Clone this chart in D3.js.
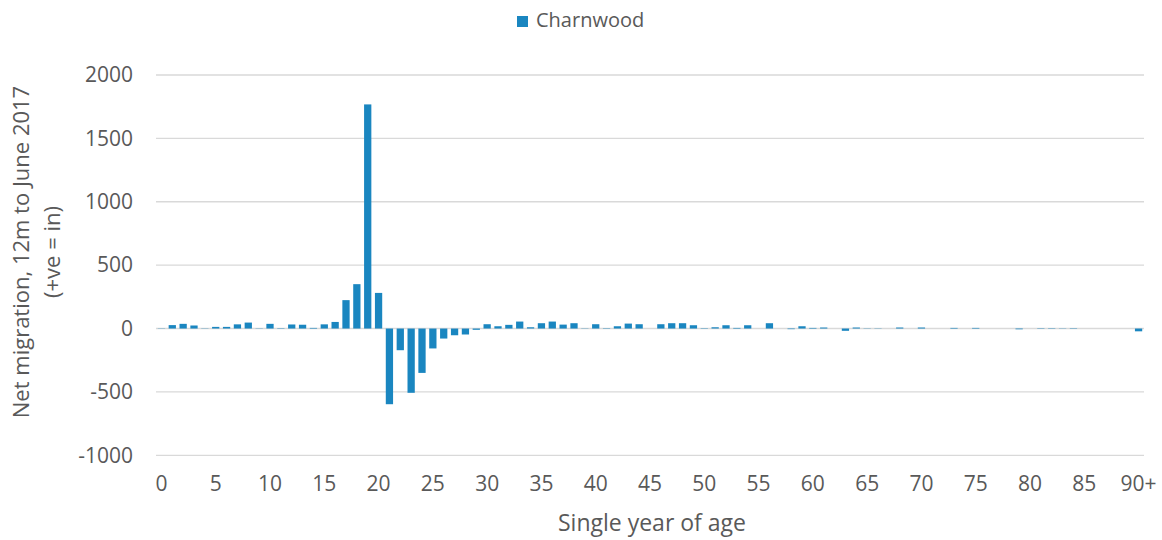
<!DOCTYPE html>
<html>
<head>
<meta charset="utf-8">
<script src="https://cdn.jsdelivr.net/npm/d3@7"></script>
<style>
  body { margin: 0; background: #fff; }
  svg { display: block; font-family: "Open Sans", sans-serif; }
</style>
</head>
<body>
<svg id="chart" width="1162" height="540"></svg>
<script>
const ages = d3.range(0, 91).map(a => a === 90 ? "90+" : String(a));
const netMigration = [
  2, 27, 37, 24, 2, 13, 13, 33, 47, 2,
  37, 3, 32, 30, 5, 33, 52, 224, 350, 1768,
  281, -597, -171, -507, -350, -157, -79, -53, -47, -10,
  34, 18, 29, 55, 10, 42, 55, 31, 42, 2,
  34, 3, 18, 39, 34, 0, 34, 42, 42, 26,
  3, 10, 26, 5, 26, 0, 42, 0, -5, 18,
  5, 8, 0, -18, 8, 2, 2, 0, 8, 0,
  8, 0, 0, 5, 0, 5, 0, 0, 0, -6,
  0, -3, -3, -2, -3, 0, 0, 0, 0, 0,
  -22
];
const yTicks = [-1000, -500, 0, 500, 1000, 1500, 2000];
const xTickLabels = ["0","5","10","15","20","25","30","35","40","45","50","55","60","65","70","75","80","85","90+"];
const seriesName = "Charnwood";
const yTitle = ["Net migration, 12m to June 2017", "(+ve = in)"];
const xTitle = "Single year of age";

const color = "#1a86c0";
const textColor = "#595959";
const svg = d3.select("#chart");

const pLeft = 156, pRight = 1144, pTop = 75, pBottom = 455.3;

const x = d3.scaleBand().domain(ages).range([pLeft, pRight]).paddingInner(0.33).paddingOuter(0.165);
const y = d3.scaleLinear().domain([-1000, 2000]).range([pBottom, pTop]);

// gridlines
svg.append("g").selectAll("line").data(yTicks).join("line")
  .attr("x1", pLeft).attr("x2", pRight)
  .attr("y1", d => y(d)).attr("y2", d => y(d))
  .attr("stroke", "#d9d9d9").attr("stroke-width", d => d === 0 ? 1.6 : 1.3);

// y tick labels
const yAxis = d3.axisLeft(y).tickValues(yTicks).tickSize(0).tickPadding(0).tickFormat(d => String(d));
const yg = svg.append("g").attr("transform", `translate(${pLeft - 23},0)`).call(yAxis);
yg.select(".domain").remove();
yg.selectAll("text").attr("fill", textColor).style("font-size", "21px").style("font-family", "'Open Sans', sans-serif");

// bars
svg.append("g").selectAll("rect").data(netMigration).join("rect")
  .attr("x", (d, i) => x(ages[i]))
  .attr("width", x.bandwidth())
  .attr("y", d => y(Math.max(0, d)))
  .attr("height", d => Math.abs(y(d) - y(0)))
  .attr("fill", color);

// x tick labels
const xAxis = d3.axisBottom(x).tickValues(xTickLabels).tickSize(0).tickPadding(0);
const xg = svg.append("g").attr("transform", `translate(0,${pBottom + 21})`).call(xAxis);
xg.select(".domain").remove();
xg.selectAll("text").attr("fill", textColor).style("font-size", "21px").style("font-family", "'Open Sans', sans-serif");

// axis titles
svg.append("text").attr("x", 652).attr("y", 525).attr("text-anchor", "middle")
  .attr("dominant-baseline", "middle").attr("fill", textColor).style("font-size", "23px").text(xTitle);

const yt = svg.append("g").attr("transform", "translate(0,252) rotate(-90)");
yTitle.forEach((t, i) => {
  yt.append("text").attr("x", 0).attr("y", 23 + i * 31).attr("text-anchor", "middle")
    .attr("dominant-baseline", "middle").attr("fill", textColor).style("font-size", "22px").text(t);
});

// legend
const lg = svg.append("g");
lg.append("rect").attr("x", 517).attr("y", 16).attr("width", 11).attr("height", 11).attr("fill", color);
lg.append("text").attr("x", 536).attr("y", 22).attr("dominant-baseline", "middle")
  .attr("fill", textColor).style("font-size", "20px").text(seriesName);
</script>
</body>
</html>
